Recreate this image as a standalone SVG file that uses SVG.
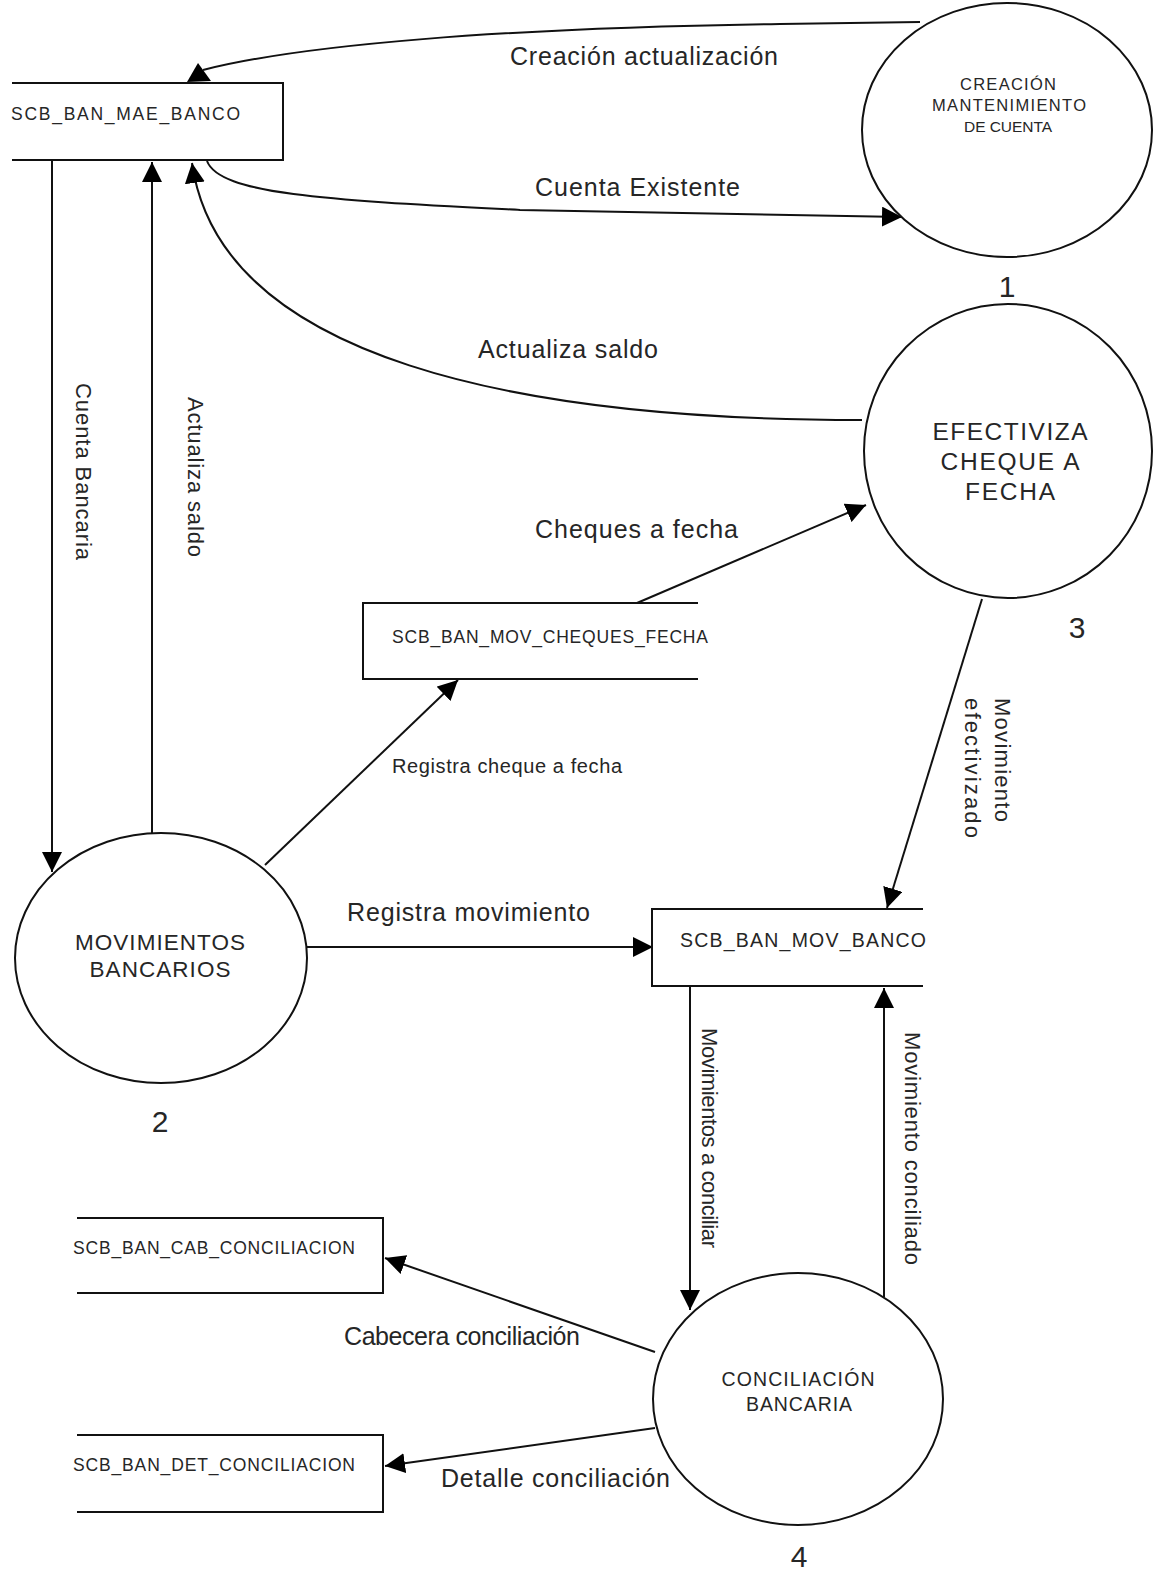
<svg xmlns="http://www.w3.org/2000/svg" width="1155" height="1572" viewBox="0 0 1155 1572">
<defs>
<marker id="ah" markerWidth="20" markerHeight="20" refX="20" refY="10" orient="auto" markerUnits="userSpaceOnUse"><path d="M0,0 L20,10 L0,20 z" fill="#000"/></marker>
<style>
.ln{fill:none;stroke:#111;stroke-width:2}
.arr{fill:none;stroke:#111;stroke-width:2;marker-end:url(#ah)}
.proc{fill:#fff;stroke:#111;stroke-width:2}
text{font-family:"Liberation Sans",Arial,sans-serif;fill:#262626}
.lbl{font-size:25px}
.vlbl{font-size:22px}
.store{font-size:17.5px}
.num{font-size:30px;text-anchor:middle}
.pt{text-anchor:middle}
</style>
</defs>
<rect width="1155" height="1572" fill="#fff"/>
<g id="connectors">
<path class="ln" d="M920,22 L780,24 C500,28 300,45 203,70"/>
<polygon points="198,63 187,82 211,81" fill="#000"/>
<path class="arr" d="M207,161 C220,195 330,200 520,210 L902,217"/>
<path class="arr" d="M862,420 C520,420 220,360 192,163"/>
<path class="arr" d="M52,160 L52,872"/>
<path class="arr" d="M152,833 L152,162"/>
<path class="arr" d="M637,603 L866,505"/>
<path class="arr" d="M265,865 L458,680"/>
<path class="arr" d="M307,947 L653,947"/>
<path class="arr" d="M982,599 L887,908"/>
<path class="arr" d="M690,987 L690,1310"/>
<path class="arr" d="M884,1297 L884,988"/>
<path class="arr" d="M655,1352 L385,1258"/>
<path class="arr" d="M655,1428 L385,1466"/>
<text class="lbl" x="510" y="65" textLength="268" lengthAdjust="spacing">Creación actualización</text>
<text class="lbl" x="535" y="196" textLength="205" lengthAdjust="spacing">Cuenta Existente</text>
<text class="lbl" x="478" y="358" textLength="180" lengthAdjust="spacing">Actualiza saldo</text>
<text class="lbl" x="535" y="538" textLength="203" lengthAdjust="spacing">Cheques a fecha</text>
<text x="392" y="773" font-size="20" textLength="230" lengthAdjust="spacing">Registra cheque a fecha</text>
<text class="lbl" x="347" y="921" textLength="243" lengthAdjust="spacing">Registra movimiento</text>
<text class="lbl" x="344" y="1345" font-size="23.5" textLength="236" lengthAdjust="spacing">Cabecera conciliación</text>
<text class="lbl" x="441" y="1487" textLength="229" lengthAdjust="spacing">Detalle conciliación</text>
<text class="vlbl" transform="translate(76,383) rotate(90)" textLength="177" lengthAdjust="spacing">Cuenta Bancaria</text>
<text class="vlbl" transform="translate(188,397) rotate(90)" textLength="160" lengthAdjust="spacing">Actualiza saldo</text>
<text class="vlbl" transform="translate(995,698) rotate(90)" textLength="124" lengthAdjust="spacing">Movimiento</text>
<text class="vlbl" transform="translate(965,698) rotate(90)" textLength="140" lengthAdjust="spacing">efectivizado</text>
<text class="vlbl" font-size="20" transform="translate(702,1028) rotate(90)" textLength="220" lengthAdjust="spacing">Movimientos a conciliar</text>
<text class="vlbl" transform="translate(905,1032) rotate(90)" textLength="233" lengthAdjust="spacing">Movimiento conciliado</text>
</g>
<g id="store-mae-banco">
<path class="ln" d="M12,83 H283 V160 H12"/>
<text class="store" x="11" y="120" font-size="18" textLength="229" lengthAdjust="spacing">SCB_BAN_MAE_BANCO</text>
</g>
<g id="store-cheques-fecha">
<path class="ln" d="M698,603 H363 V679 H698"/>
<text class="store" x="392" y="643" textLength="316" lengthAdjust="spacing">SCB_BAN_MOV_CHEQUES_FECHA</text>
</g>
<g id="store-mov-banco">
<path class="ln" d="M923,909 H652 V986 H923"/>
<text x="680" y="947" font-size="19.5" textLength="246" lengthAdjust="spacing">SCB_BAN_MOV_BANCO</text>
</g>
<g id="store-cab-conciliacion">
<path class="ln" d="M77,1218 H383 V1293 H77"/>
<text class="store" x="73" y="1254" textLength="282" lengthAdjust="spacing">SCB_BAN_CAB_CONCILIACION</text>
</g>
<g id="store-det-conciliacion">
<path class="ln" d="M77,1435 H383 V1512 H77"/>
<text class="store" x="73" y="1471" textLength="282" lengthAdjust="spacing">SCB_BAN_DET_CONCILIACION</text>
</g>
<g id="proc-1">
<ellipse class="proc" cx="1007" cy="130" rx="145" ry="127"/>
<text class="pt" x="1008" y="90" font-size="16.5" textLength="96" lengthAdjust="spacing">CREACIÓN</text>
<text class="pt" x="1009" y="111" font-size="16.5" textLength="154" lengthAdjust="spacing">MANTENIMIENTO</text>
<text class="pt" x="1008" y="132" font-size="15.5" textLength="88" lengthAdjust="spacing">DE CUENTA</text>
<text class="num" x="1007" y="297">1</text>
</g>
<g id="proc-2">
<ellipse class="proc" cx="161" cy="958" rx="146" ry="125"/>
<text class="pt" x="160" y="950" font-size="22.5" textLength="170" lengthAdjust="spacing">MOVIMIENTOS</text>
<text class="pt" x="160" y="977" font-size="22.5" textLength="141" lengthAdjust="spacing">BANCARIOS</text>
<text class="num" x="160" y="1132">2</text>
</g>
<g id="proc-3">
<ellipse class="proc" cx="1008" cy="451" rx="144" ry="147"/>
<text class="pt" x="1010" y="440" font-size="24.5" textLength="155" lengthAdjust="spacing">EFECTIVIZA</text>
<text class="pt" x="1010" y="470" font-size="24.5" textLength="139" lengthAdjust="spacing">CHEQUE A</text>
<text class="pt" x="1010" y="500" font-size="24.5" textLength="90" lengthAdjust="spacing">FECHA</text>
<text class="num" x="1077" y="638">3</text>
</g>
<g id="proc-4">
<ellipse class="proc" cx="798" cy="1399" rx="145" ry="126"/>
<text class="pt" x="798" y="1386" font-size="19.5" textLength="153" lengthAdjust="spacing">CONCILIACIÓN</text>
<text class="pt" x="799" y="1411" font-size="19.5" textLength="106" lengthAdjust="spacing">BANCARIA</text>
<text class="num" x="799" y="1567">4</text>
</g>
</svg>
